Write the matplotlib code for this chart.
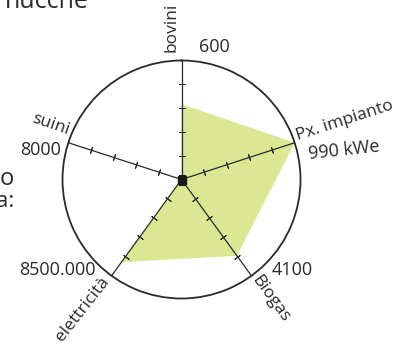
import numpy as np
import matplotlib
matplotlib.use("Agg")
import matplotlib.pyplot as plt

# Radar of a biogas plant: each spoke scaled to its own maximum
categories = ["bovini", "Px. impianto", "Biogas", "elettricità", "suini"]
max_labels = ["600", "990 kWe", "4100", "8500.000", "8000"]
max_values = [600, 990, 4100, 8500000, 8000]
values = [380, 990, 3250, 7300000, 0]

FILL = "#dbe793"
INK = "#2a2a2a"
plt.rcParams["font.family"] = ["Open Sans", "DejaVu Sans"]

W, H = 408, 345
fig = plt.figure(figsize=(W / 100, H / 100), dpi=100)
cx, cy, R = 181.5, 179.5, 119.0
ax = fig.add_axes([(cx - R) / W, (H - cy - R) / H, 2 * R / W, 2 * R / H],
                  projection="polar")
ax.set_theta_zero_location("N")
ax.set_theta_direction(-1)
ax.set_ylim(0, 1)
ax.set_xticks([])
ax.set_yticks([])
ax.grid(False)
ax.spines["polar"].set_linewidth(1.3)
ax.spines["polar"].set_color(INK)

n = len(categories)
theta = np.deg2rad(np.arange(n) * 360.0 / n)
frac = np.array(values, dtype=float) / np.array(max_values, dtype=float)

# filled data polygon
tt = np.append(theta, theta[0])
ff = np.append(frac, frac[0])
ax.fill(tt, ff, color=FILL, lw=0, zorder=1)

# spokes with tick marks at fifths
for t in theta:
    ax.plot([t, t], [0, 1], color=INK, lw=0.9, zorder=2)
    rot = 90 - np.rad2deg(t)
    ax.plot([t] * 4, [0.2, 0.4, 0.6, 0.8], ls="none", color=INK,
            marker=(2, 2, rot), ms=5, mew=0.7, zorder=2)
ax.plot([0], [0], marker="s", ms=6, color="#1a1a1a", zorder=3)

# spoke names and maximum values (compass angle in degrees, radius, rotation)
name_pos = [(-3.6, 1.28, 90), (70.3, 1.46, 18), (143.2, 1.25, -54),
            (217.5, 1.372, 52), (292.7, 1.19, -19)]
max_pos = [(13.8, 1.146, 0), (79.7, 1.39, 6), (129.3, 1.2, 0),
           (234.0, 1.293, 0), (281.9, 1.207, 0)]
for label, (a, r, rot) in zip(categories, name_pos):
    ax.text(np.deg2rad(a), r, label, rotation=rot, ha="center", va="center",
            rotation_mode="anchor", fontsize=12.5, color=INK, clip_on=False)
for label, (a, r, rot) in zip(max_labels, max_pos):
    ax.text(np.deg2rad(a), r, label, rotation=rot, ha="center", va="center",
            rotation_mode="anchor", fontsize=13, color=INK, clip_on=False)

# surrounding page text
fig.text(5 / W, (H - 8) / H, "nucche", fontsize=18, color=INK,
         ha="left", va="baseline")
fig.text(14 / W, (H - 185) / H, "o", fontsize=17, color=INK,
         ha="right", va="baseline")
fig.text(14 / W, (H - 207) / H, "a:", fontsize=16, color=INK,
         ha="right", va="baseline")

fig.savefig("out.png", dpi=100)
